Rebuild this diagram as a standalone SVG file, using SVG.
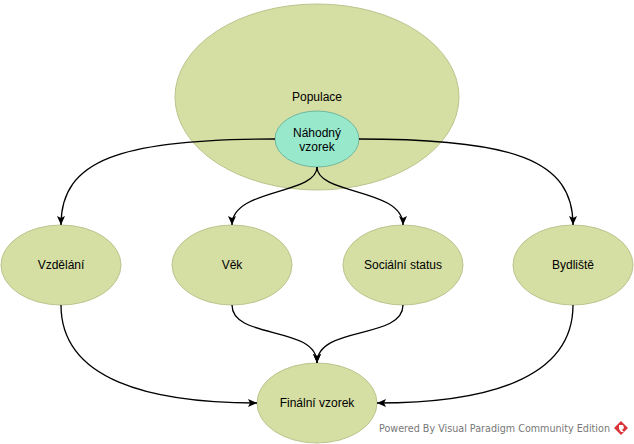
<svg xmlns="http://www.w3.org/2000/svg" width="634" height="444" viewBox="0 0 634 444">
<style>
.n{fill:#d5dea3;stroke:#bcc48e;stroke-width:1}
.m{fill:#98e8cc;stroke:#70b8a0;stroke-width:1}
.t{font-family:"Liberation Sans",Arial,sans-serif;font-size:12px;fill:#000;text-anchor:middle}
.c{fill:none;stroke:#000;stroke-width:1.3}
.w{font-family:"DejaVu Sans",sans-serif;font-size:10px;fill:#777}
</style>
<defs>
<marker id="a" markerWidth="10" markerHeight="10" refX="9" refY="5" orient="auto" markerUnits="userSpaceOnUse">
<path d="M0,1 L9,5 L0,9 L2,5 Z" fill="#000"/>
</marker>
</defs>
<rect width="634" height="444" fill="#fff"/>
<g id="populace">
<ellipse class="n" cx="317" cy="97" rx="142" ry="93"/>
<text class="t" x="317" y="101">Populace</text>
</g>
<g id="nahodny">
<ellipse class="m" cx="317" cy="139" rx="42" ry="28"/>
<text class="t" x="317" y="137">Náhodný</text>
<text class="t" x="317" y="151">vzorek</text>
</g>
<g id="vzdelani">
<ellipse class="n" cx="61" cy="265" rx="60" ry="40"/>
<text class="t" x="61" y="269">Vzdělání</text>
</g>
<g id="vek">
<ellipse class="n" cx="232" cy="265" rx="60" ry="40"/>
<text class="t" x="232" y="269">Věk</text>
</g>
<g id="socialni">
<ellipse class="n" cx="403" cy="265" rx="60" ry="40"/>
<text class="t" x="403" y="269">Sociální status</text>
</g>
<g id="bydliste">
<ellipse class="n" cx="573" cy="265" rx="60" ry="40"/>
<text class="t" x="573" y="269">Bydliště</text>
</g>
<g id="finalni">
<ellipse class="n" cx="317" cy="403" rx="60" ry="40"/>
<text class="t" x="317" y="407">Finální vzorek</text>
</g>
<g id="connectors">
<path class="c" marker-end="url(#a)" d="M275,139 C120,139 61,160 61,225"/>
<path class="c" marker-end="url(#a)" d="M359,139 C514,139 573,160 573,225"/>
<path class="c" marker-end="url(#a)" d="M317,167 C317,195 232,188 232,225"/>
<path class="c" marker-end="url(#a)" d="M317,167 C317,195 403,188 403,225"/>
<path class="c" marker-end="url(#a)" d="M232,305 C232,340 317,325 317,363"/>
<path class="c" marker-end="url(#a)" d="M403,305 C403,340 317,325 317,363"/>
<path class="c" marker-end="url(#a)" d="M61,305 C61,380 150,403 257,403"/>
<path class="c" marker-end="url(#a)" d="M573,305 C573,380 484,403 377,403"/>
</g>
<g id="watermark">
<text class="w" x="379" y="432" textLength="231" lengthAdjust="spacingAndGlyphs">Powered By Visual Paradigm Community Edition</text>
<path d="M621,421 L628,428 L621,435 L614,428 Z" fill="#d9343a"/>
<path d="M619,425 L623,425 L624,428 L622,430 L624,432 L621,432 L619,429 Z" fill="#fff"/>
</g>
</svg>
